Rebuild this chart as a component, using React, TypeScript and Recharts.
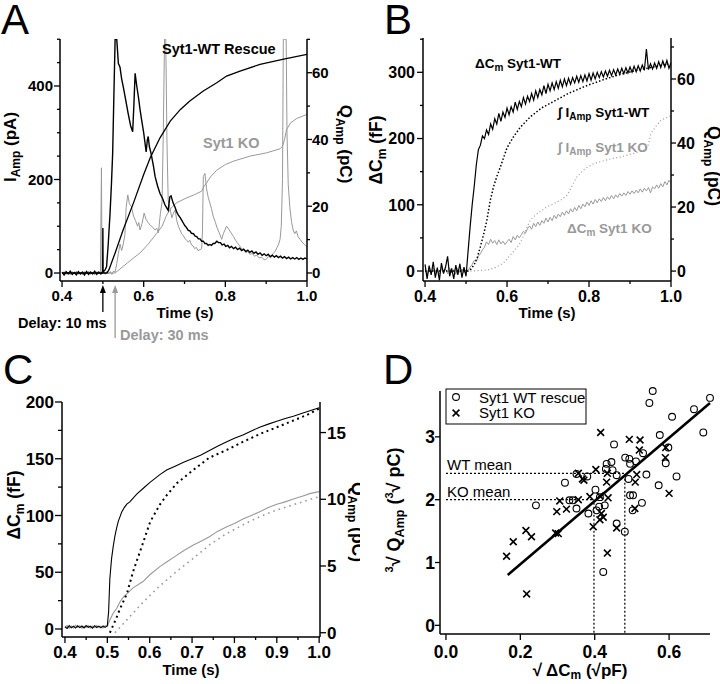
import React from "react";
import { ComposedChart, Line, XAxis, YAxis, Scatter, ReferenceLine } from "recharts";

const FONT = "'Liberation Sans', Arial, Helvetica, sans-serif";
const GRAY = "#999999";

// ---------- Panel A: amperometric current (pA) and charge (pC) ----------
const aCurrentWT = [
  [0.400, 2], [0.405, -4], [0.410, 3], [0.415, -2], [0.420, 4], [0.425, -3], [0.430, 1], [0.435, -4], [0.440, 3], [0.445, -2],
  [0.450, 2], [0.455, -4], [0.460, 3], [0.465, -3], [0.470, 2], [0.475, -2], [0.480, 4], [0.485, -3], [0.490, 2], [0.495, -2],
  [0.4995, 3], [0.500, 96], [0.5005, 2], [0.505, 6], [0.509, 13], [0.513, 60], [0.5176, 128], [0.521, 190], [0.524, 256], [0.527, 380],
  [0.530, 500], [0.534, 500], [0.538, 448], [0.542, 440], [0.546, 415], [0.550, 398], [0.556, 370], [0.562, 341], [0.568, 315], [0.573, 302],
  [0.576, 360], [0.579, 427], [0.583, 400], [0.587, 377], [0.591, 350], [0.595, 327], [0.600, 300], [0.606, 259], [0.609, 285], [0.611, 292],
  [0.614, 270], [0.618, 256], [0.624, 228], [0.628, 206], [0.634, 186], [0.640, 170], [0.646, 160], [0.652, 146], [0.656, 140], [0.660, 134],
  [0.664, 163], [0.667, 165], [0.672, 150], [0.677, 140], [0.681, 130], [0.685, 124], [0.689, 119], [0.693, 113], [0.697, 107], [0.701, 101],
  [0.705, 97], [0.709, 91], [0.713, 90], [0.717, 85], [0.722, 84], [0.726, 79], [0.730, 78], [0.734, 73], [0.738, 73], [0.742, 68],
  [0.746, 68], [0.750, 63], [0.754, 63], [0.758, 59], [0.762, 61], [0.766, 59], [0.770, 63], [0.774, 63], [0.779, 68], [0.783, 65],
  [0.788, 65], [0.792, 60], [0.797, 62], [0.801, 57], [0.806, 59], [0.810, 54], [0.815, 57], [0.820, 52], [0.825, 55], [0.830, 50],
  [0.835, 53], [0.840, 48], [0.845, 51], [0.850, 46], [0.855, 49], [0.860, 44], [0.865, 47], [0.870, 42], [0.875, 45], [0.880, 40],
  [0.885, 43], [0.890, 38], [0.895, 41], [0.900, 37], [0.905, 40], [0.910, 35], [0.915, 38], [0.920, 34], [0.925, 37], [0.930, 33],
  [0.935, 36], [0.940, 32], [0.945, 35], [0.950, 31], [0.955, 34], [0.960, 30], [0.965, 33], [0.970, 30], [0.975, 33], [0.980, 29],
  [0.985, 32], [0.990, 29], [0.995, 32], [1.000, 30],
];

const aCurrentKO = [
  [0.400, -2], [0.405, 3], [0.410, -3], [0.415, 2], [0.420, -4], [0.425, 3], [0.430, -2], [0.435, 4], [0.440, -3], [0.445, 2],
  [0.450, -4], [0.455, 3], [0.460, -2], [0.465, 4], [0.470, -3], [0.475, 2], [0.480, -4], [0.485, 3], [0.490, -2], [0.494, 3],
  [0.4965, 225], [0.498, -2], [0.502, 3], [0.506, -3], [0.510, 4], [0.514, -2], [0.518, 3], [0.522, -3], [0.526, 4], [0.530, 2],
  [0.534, 20], [0.538, 42], [0.542, 62], [0.546, 48], [0.550, 62], [0.554, 82], [0.557, 140], [0.561, 167], [0.565, 148], [0.570, 142],
  [0.575, 122], [0.580, 112], [0.585, 100], [0.588, 108], [0.591, 92], [0.596, 106], [0.601, 128], [0.606, 114], [0.611, 108], [0.616, 102],
  [0.622, 98], [0.628, 92], [0.632, 96], [0.636, 86], [0.641, 128], [0.645, 152], [0.648, 300], [0.651, 500], [0.654, 500], [0.657, 280],
  [0.660, 156], [0.664, 140], [0.669, 118], [0.673, 128], [0.677, 135], [0.681, 112], [0.685, 100], [0.689, 92], [0.693, 84], [0.697, 80],
  [0.701, 74], [0.705, 70], [0.709, 66], [0.713, 70], [0.717, 60], [0.721, 58], [0.725, 52], [0.729, 55], [0.733, 48], [0.738, 50],
  [0.742, 52], [0.744, 90], [0.746, 206], [0.750, 213], [0.754, 180], [0.758, 162], [0.762, 150], [0.766, 138], [0.770, 122], [0.775, 110],
  [0.780, 96], [0.785, 86], [0.791, 72], [0.795, 84], [0.799, 92], [0.803, 100], [0.808, 94], [0.814, 86], [0.820, 78], [0.825, 70],
  [0.830, 64], [0.835, 58], [0.840, 52], [0.845, 50], [0.850, 44], [0.855, 46], [0.860, 40], [0.866, 42], [0.871, 36], [0.877, 38],
  [0.883, 32], [0.889, 34], [0.895, 28], [0.901, 30], [0.906, 36], [0.911, 32], [0.917, 42], [0.922, 46], [0.926, 54], [0.930, 60],
  [0.934, 72], [0.937, 100], [0.940, 200], [0.942, 500], [0.949, 500], [0.951, 300], [0.954, 190], [0.958, 140], [0.962, 110], [0.966, 92],
  [0.970, 84], [0.974, 90], [0.978, 78], [0.983, 72], [0.988, 66], [0.993, 62], [0.997, 58], [1.000, 56],
];

const aChargeWT = [
  [0.400, 0], [0.510, 0], [0.515, 1], [0.530, 6], [0.550, 13], [0.575, 21], [0.600, 29.5], [0.616, 34.5], [0.640, 40.5], [0.665, 45.5],
  [0.690, 49], [0.713, 51.5], [0.746, 54.5], [0.779, 57], [0.803, 59], [0.836, 60.5], [0.885, 62.5], [0.940, 64], [1.000, 65.5],
];

const aChargeKO = [
  [0.400, 0], [0.530, 0], [0.542, 1.2], [0.560, 3], [0.575, 4.5], [0.591, 6], [0.610, 8.5], [0.632, 11.9], [0.645, 14], [0.655, 17],
  [0.664, 19], [0.680, 21], [0.705, 22.5], [0.725, 23.5], [0.742, 24.5], [0.748, 26], [0.754, 27], [0.765, 29], [0.779, 30.8], [0.800, 32.5],
  [0.820, 33.5], [0.860, 35], [0.901, 36], [0.934, 37.2], [0.940, 38], [0.945, 40], [0.950, 43], [0.960, 45], [0.975, 46.3], [1.000, 47.5],
];

// ---------- Panel B: capacitance (fF) and integrated current (pC), samples every 5 ms from 0.4 s ----------
const bCapWT = [
  10, -12, 8, -6, 14, -10, 5, -14, 12, -4, 6, 22, -8, 4, -12, 9, -6, 11, -10, 6, -8,
  30, 67, 100, 128, 160, 183, 190, 204, 200, 213, 206, 222, 214, 230, 222, 238, 226, 240, 232, 246,
  236, 248, 240, 255, 244, 256, 248, 262, 252, 264, 256, 268, 258, 272, 262, 274, 266, 280, 268, 282,
  272, 284, 274, 286, 276, 288, 278, 290, 280, 291, 282, 292, 284, 294, 285, 295, 286, 296, 287, 298,
  288, 299, 290, 300, 292, 301, 293, 302, 294, 303, 295, 304, 296, 305, 297, 306, 298, 307, 299, 308,
  300, 309, 301, 310, 302, 311, 303, 335, 304, 313, 305, 314, 306, 316, 307, 317, 308, 318, 306, 314,
];

const bCapKO = [
  3, -5, 4, -3, 5, -4, 2, -5, 4, -2, 3, -4, 5, -3, 2, -5, 4, -2, 3, -3, 2,
  1, 6, 10, 16, 14, 22, 26, 32, 36, 44, 40, 48, 42, 46, 40, 47, 41, 45, 40, 44,
  48, 43, 52, 47, 54, 50, 55, 60, 57, 64, 68, 63, 72, 67, 74, 69, 76, 72, 80, 74,
  81, 76, 84, 79, 86, 82, 89, 84, 91, 86, 94, 89, 96, 91, 99, 94, 101, 97, 104, 99,
  106, 101, 108, 103, 109, 105, 111, 106, 112, 108, 114, 109, 115, 111, 117, 113, 118, 114, 120, 116,
  121, 117, 122, 118, 124, 119, 125, 121, 126, 118, 127, 124, 130, 125, 132, 127, 135, 130, 137, 133,
];

const bChargeWT = [
  [0.400, 0], [0.505, 0], [0.510, 0.3], [0.520, 2], [0.528, 4.5], [0.535, 7.6], [0.543, 11.5], [0.551, 16], [0.559, 22], [0.567, 26.3],
  [0.575, 29.5], [0.584, 32.6], [0.600, 38.5], [0.616, 42], [0.633, 45], [0.657, 48.2], [0.685, 51], [0.714, 53], [0.750, 55.5], [0.796, 58],
  [0.840, 60], [0.878, 61.5], [0.920, 62.8], [0.959, 63.8], [1.000, 64.9],
];

const bChargeKO = [
  [0.400, 0], [0.510, 0], [0.551, 0.3], [0.570, 1], [0.592, 2.6], [0.608, 5], [0.620, 6.8], [0.633, 9], [0.645, 12.5], [0.657, 16],
  [0.674, 18], [0.698, 20.1], [0.714, 21], [0.735, 22.5], [0.747, 23.8], [0.760, 27], [0.771, 29.5], [0.790, 32], [0.812, 33.6], [0.845, 34.8],
  [0.878, 35.7], [0.910, 36.8], [0.935, 37.8], [0.945, 39.5], [0.951, 43], [0.965, 45.5], [0.976, 47.2], [1.000, 48.5],
];

// ---------- Panel C: averaged capacitance (fF) and charge (pC) ----------
const cCapWT = [
  [0.400, 2], [0.405, 0.5], [0.410, 3], [0.415, 1], [0.420, 2.5], [0.425, 0.8], [0.430, 2.8], [0.435, 1.2], [0.440, 2.6], [0.445, 0.9],
  [0.450, 3], [0.455, 1.5], [0.460, 2.4], [0.465, 0.7], [0.470, 2.9], [0.475, 1.3], [0.480, 2.5], [0.485, 1], [0.490, 2.7], [0.495, 1.4],
  [0.500, 3], [0.503, 15], [0.506, 44.7], [0.510, 62], [0.514, 73], [0.518, 82], [0.522, 89], [0.526, 95], [0.530, 99], [0.534, 103],
  [0.540, 107], [0.546, 110], [0.553, 112], [0.570, 119], [0.585, 124], [0.600, 129], [0.624, 136], [0.640, 140], [0.660, 143.5], [0.680, 147],
  [0.703, 150.5], [0.720, 153], [0.740, 157], [0.760, 161], [0.782, 165], [0.800, 168], [0.820, 171], [0.840, 174.5], [0.861, 178], [0.880, 180.5],
  [0.900, 183], [0.920, 185.5], [0.939, 187.5], [0.960, 190], [0.980, 192.5], [1.000, 195],
];

const cCapKO = [
  [0.400, 1.5], [0.405, 3], [0.410, 0.8], [0.415, 2.6], [0.420, 1], [0.425, 3.2], [0.430, 1.4], [0.435, 2.8], [0.440, 0.6], [0.445, 2.4],
  [0.450, 1.2], [0.455, 3], [0.460, 0.9], [0.465, 2.7], [0.470, 1.1], [0.475, 3.1], [0.480, 1.3], [0.485, 2.5], [0.490, 0.8], [0.495, 2.9],
  [0.500, 2], [0.506, 8], [0.514, 14], [0.522, 18], [0.530, 24], [0.538, 28], [0.546, 31], [0.560, 36], [0.585, 42], [0.601, 48],
  [0.624, 55], [0.640, 59], [0.660, 64], [0.680, 69], [0.703, 74], [0.720, 77], [0.740, 81], [0.760, 86], [0.782, 90], [0.800, 93],
  [0.820, 97], [0.840, 100], [0.861, 103.5], [0.880, 107], [0.900, 110], [0.920, 112], [0.939, 114.5], [0.960, 117], [0.980, 119.5], [1.000, 121],
];

const cChargeWT = [
  [0.506, 0], [0.520, 1], [0.530, 1.8], [0.546, 2.9], [0.561, 4.6], [0.585, 6.8], [0.601, 8.3], [0.624, 9.6], [0.640, 10.3], [0.664, 11.2],
  [0.703, 12.2], [0.740, 13.1], [0.782, 13.7], [0.820, 14.3], [0.861, 14.9], [0.900, 15.4], [0.939, 15.9], [0.970, 16.3], [1.000, 16.8],
];

const cChargeKO = [
  [0.518, 0], [0.550, 1.1], [0.585, 2.3], [0.620, 3.4], [0.664, 4.6], [0.700, 5.5], [0.742, 6.6], [0.780, 7.4], [0.821, 8.1], [0.860, 8.7],
  [0.900, 9.2], [0.950, 9.7], [1.000, 10.2],
];

// ---------- Panel D: sqrt(dCm) vs cube-root(Q) per cell ----------
const dRescue = [
  [0.556, 3.73], [0.547, 3.54], [0.710, 3.62], [0.667, 3.44], [0.608, 3.32], [0.575, 3.03], [0.692, 3.07], [0.452, 2.88], [0.598, 2.83], [0.482, 2.67],
  [0.493, 2.65], [0.530, 2.74], [0.511, 2.61], [0.495, 2.57], [0.432, 2.57], [0.445, 2.60], [0.430, 2.49], [0.448, 2.47], [0.459, 2.39], [0.591, 2.58],
  [0.539, 2.40], [0.620, 2.37], [0.491, 2.33], [0.351, 2.41], [0.380, 2.37], [0.320, 2.27], [0.572, 2.23], [0.402, 2.16], [0.495, 2.07], [0.503, 2.07],
  [0.414, 2.04], [0.341, 1.99], [0.332, 1.99], [0.242, 1.91], [0.351, 1.86], [0.383, 1.78], [0.412, 1.89], [0.427, 1.91], [0.405, 1.83], [0.527, 1.95],
  [0.502, 1.83], [0.459, 1.62], [0.481, 1.49], [0.423, 0.85],
];

const dKO = [
  [0.416, 3.07], [0.493, 2.96], [0.522, 2.95], [0.520, 2.79], [0.591, 2.83], [0.590, 2.67], [0.403, 2.48], [0.356, 2.42], [0.367, 2.33], [0.371, 2.31],
  [0.434, 2.42], [0.513, 2.40], [0.509, 2.28], [0.432, 2.28], [0.387, 2.05], [0.306, 1.98], [0.324, 1.85], [0.298, 1.81], [0.356, 2.0], [0.414, 2.06],
  [0.436, 2.03], [0.418, 1.78], [0.423, 1.72], [0.414, 1.68], [0.396, 1.57], [0.459, 1.55], [0.508, 1.86], [0.600, 2.10], [0.295, 1.47], [0.302, 1.46],
  [0.215, 1.51], [0.230, 1.41], [0.181, 1.33], [0.163, 1.10], [0.434, 1.15], [0.217, 0.50],
];

const dFit = [[0.166, 0.80], [0.710, 3.54]];
const dMeans = { wt: [0.481, 2.42], ko: [0.398, 2.0] };

// tick positions
const tA = [0.4, 0.5, 0.6, 0.7, 0.8, 0.9, 1.0];
const tC = [0.4, 0.45, 0.5, 0.55, 0.6, 0.65, 0.7, 0.75, 0.8, 0.85, 0.9, 0.95, 1.0];

const pts = (a: number[][]) => a.map(([t, v]) => ({ t, v }));
const xy = (a: number[][]) => a.map(([x, y]) => ({ x, y }));
const onGrid = (t0: number, dt: number, vals: number[]) => vals.map((v, i) => ({ t: +(t0 + i * dt).toFixed(4), v }));

type TickOpts = {
  side: "left" | "right" | "bottom";
  labels: number[];
  fmt: (v: number) => string;
  fs: number;
  major?: number;
  minor?: number;
  gap?: number;
  dy?: number;
};

function makeTick(o: TickOpts) {
  return (p: any) => {
    const { x, y, payload } = p;
    const v = payload.value;
    const lab = o.labels.some((m) => Math.abs(m - v) < 1e-6);
    const maj = o.major ?? 6;
    const L = lab ? maj : o.minor ?? 3;
    const gap = o.gap ?? 2;
    const txt = { fontSize: o.fs, fontWeight: 700, fill: "#000", fontFamily: FONT };
    if (o.side === "bottom") {
      return (
        <g>
          <line x1={x} y1={y} x2={x} y2={y + L} stroke="#000" strokeWidth={1.3} />
          {lab && <text x={x} y={y + (o.dy ?? 20)} textAnchor="middle" {...txt}>{o.fmt(v)}</text>}
        </g>
      );
    }
    const s = o.side === "left" ? -1 : 1;
    return (
      <g>
        <line x1={x} y1={y} x2={x + s * L} y2={y} stroke="#000" strokeWidth={1.3} />
        {lab && (
          <text x={x + s * (maj + gap)} y={y} dy="0.36em" textAnchor={s < 0 ? "end" : "start"} {...txt}>
            {o.fmt(v)}
          </text>
        )}
      </g>
    );
  };
}

const axisBase = {
  axisLine: { stroke: "#000", strokeWidth: 1.5 },
  tickLine: false,
  tickSize: 0,
  tickMargin: 0,
  interval: 0 as const,
  allowDataOverflow: true,
};

const f1 = (v: number) => v.toFixed(1);
const f0 = (v: number) => String(Math.round(v));
const range = (a: number, b: number, s: number) => { const r: number[] = []; for (let v = a; v <= b + 1e-9; v += s) r.push(+v.toFixed(3)); return r; };

function PanelA() {
  return (
    <ComposedChart width={360} height={342} margin={{ top: 39, right: 0, bottom: 0, left: 0 }}>
      <XAxis type="number" dataKey="t" domain={[0.395, 1.0]} ticks={tA} height={61} {...axisBase}
        tick={makeTick({ side: "bottom", labels: [0.4, 0.6, 0.8, 1.0], fmt: f1, fs: 15, dy: 20 })} />
      <YAxis yAxisId="l" type="number" domain={[-17.1, 500.5]} ticks={range(0, 500, 50)} width={60} {...axisBase}
        tick={makeTick({ side: "left", labels: [0, 200, 400], fmt: f0, fs: 15, gap: 1 })} />
      <YAxis yAxisId="r" orientation="right" type="number" domain={[-2.4, 70.1]} ticks={range(0, 70, 10)} width={53} {...axisBase}
        tick={makeTick({ side: "right", labels: [0, 20, 40, 60], fmt: f0, fs: 15, major: 5, gap: 0 })} />
      <Line yAxisId="l" data={pts(aCurrentKO)} dataKey="v" stroke={GRAY} strokeWidth={1} dot={false} isAnimationActive={false} type="linear" />
      <Line yAxisId="r" data={pts(aChargeKO)} dataKey="v" stroke={GRAY} strokeWidth={1} dot={false} isAnimationActive={false} type="linear" />
      <Line yAxisId="l" data={pts(aCurrentWT)} dataKey="v" stroke="#000" strokeWidth={1.4} dot={false} isAnimationActive={false} type="linear" />
      <Line yAxisId="r" data={pts(aChargeWT)} dataKey="v" stroke="#000" strokeWidth={1.3} dot={false} isAnimationActive={false} type="linear" />
    </ComposedChart>
  );
}

function PanelB() {
  return (
    <ComposedChart width={360} height={342} margin={{ top: 38, right: 0, bottom: 0, left: 0 }}>
      <XAxis type="number" dataKey="t" domain={[0.395, 1.0]} ticks={tA} height={61} {...axisBase}
        tick={makeTick({ side: "bottom", labels: [0.4, 0.6, 0.8, 1.0], fmt: f1, fs: 16, dy: 21 })} />
      <YAxis yAxisId="l" type="number" domain={[-15.1, 351.8]} ticks={range(0, 350, 50)} width={63} {...axisBase}
        tick={makeTick({ side: "left", labels: [0, 100, 200, 300], fmt: f0, fs: 16, gap: 2 })} />
      <YAxis yAxisId="r" orientation="right" type="number" domain={[-3.1, 72.8]} ticks={range(0, 70, 10)} width={49} {...axisBase}
        tick={makeTick({ side: "right", labels: [0, 20, 40, 60], fmt: f0, fs: 16, major: 5, gap: 1 })} />
      <Line yAxisId="l" data={onGrid(0.4, 0.005, bCapKO)} dataKey="v" stroke={GRAY} strokeWidth={1} dot={false} isAnimationActive={false} type="linear" />
      <Line yAxisId="r" data={pts(bChargeKO)} dataKey="v" stroke={GRAY} strokeWidth={1.2} strokeDasharray="1 2.5" dot={false} isAnimationActive={false} type="linear" />
      <Line yAxisId="l" data={onGrid(0.4, 0.005, bCapWT)} dataKey="v" stroke="#000" strokeWidth={1.2} dot={false} isAnimationActive={false} type="linear" />
      <Line yAxisId="r" data={pts(bChargeWT)} dataKey="v" stroke="#000" strokeWidth={1.5} strokeDasharray="1.5 2" dot={false} isAnimationActive={false} type="linear" />
    </ComposedChart>
  );
}

function PanelC() {
  return (
    <ComposedChart width={360} height={342} margin={{ top: 60, right: 0, bottom: 0, left: 0 }}>
      <XAxis type="number" dataKey="t" domain={[0.393, 1.002]} ticks={tC} height={47} {...axisBase}
        tick={makeTick({ side: "bottom", labels: tA, fmt: f1, fs: 17, dy: 21 })} />
      <YAxis yAxisId="l" type="number" domain={[-7.05, 200]} ticks={range(0, 200, 25)} width={62} {...axisBase}
        tick={makeTick({ side: "left", labels: [0, 50, 100, 150, 200], fmt: f0, fs: 17, major: 7, minor: 4, gap: 1 })} />
      <YAxis yAxisId="r" orientation="right" type="number" domain={[-0.32, 17.29]} ticks={[0, 5, 10, 15]} width={40} {...axisBase}
        tick={makeTick({ side: "right", labels: [0, 5, 10, 15], fmt: f0, fs: 17, major: 6, gap: 1 })} />
      <Line yAxisId="l" data={pts(cCapKO)} dataKey="v" stroke={GRAY} strokeWidth={1.1} dot={false} isAnimationActive={false} type="linear" />
      <Line yAxisId="r" data={pts(cChargeKO)} dataKey="v" stroke={GRAY} strokeWidth={1.6} strokeDasharray="1.6 4" dot={false} isAnimationActive={false} type="linear" />
      <Line yAxisId="l" data={pts(cCapWT)} dataKey="v" stroke="#000" strokeWidth={1.1} dot={false} isAnimationActive={false} type="linear" />
      <Line yAxisId="r" data={pts(cChargeWT)} dataKey="v" stroke="#000" strokeWidth={2} strokeDasharray="2 3.5" dot={false} isAnimationActive={false} type="linear" />
    </ComposedChart>
  );
}

const Circle = (p: any) => <circle cx={p.cx} cy={p.cy} r={3.4} fill="none" stroke="#000" strokeWidth={1.1} />;
const Cross = (p: any) => {
  const s = 3.4;
  return <path d={`M${p.cx - s},${p.cy - s}L${p.cx + s},${p.cy + s}M${p.cx + s},${p.cy - s}L${p.cx - s},${p.cy + s}`} stroke="#000" strokeWidth={1.6} />;
};

function PanelD() {
  const dash = { stroke: "#000", strokeWidth: 1.2, strokeDasharray: "2 2", ifOverflow: "visible" as const };
  return (
    <ComposedChart width={360} height={342} margin={{ top: 49, right: 10, bottom: 0, left: 0 }}>
      <XAxis type="number" dataKey="x" domain={[-0.016, 0.71]} ticks={[0, 0.2, 0.4, 0.6]} height={50} {...axisBase} allowDataOverflow={false}
        tick={makeTick({ side: "bottom", labels: [0, 0.2, 0.4, 0.6], fmt: f1, fs: 17.5, major: 6, dy: 24 })} />
      <YAxis type="number" dataKey="y" domain={[-0.138, 3.719]} ticks={[0, 1, 2, 3]} width={80} {...axisBase} allowDataOverflow={false}
        tick={makeTick({ side: "left", labels: [0, 1, 2, 3], fmt: f0, fs: 17.5, major: 5, gap: 0 })} />
      <ReferenceLine segment={[{ x: 0, y: dMeans.wt[1] }, { x: dMeans.wt[0], y: dMeans.wt[1] }]} {...dash} />
      <ReferenceLine segment={[{ x: 0, y: dMeans.ko[1] }, { x: dMeans.ko[0], y: dMeans.ko[1] }]} {...dash} />
      <ReferenceLine segment={[{ x: dMeans.wt[0], y: -0.12 }, { x: dMeans.wt[0], y: dMeans.wt[1] }]} {...dash} />
      <ReferenceLine segment={[{ x: dMeans.ko[0], y: -0.12 }, { x: dMeans.ko[0], y: dMeans.ko[1] }]} {...dash} />
      <Scatter data={xy(dRescue)} dataKey="y" shape={Circle} isAnimationActive={false} />
      <Scatter data={xy(dKO)} dataKey="y" shape={Cross} isAnimationActive={false} />
      <Line data={xy(dFit)} dataKey="y" stroke="#000" strokeWidth={2.6} dot={false} isAnimationActive={false} type="linear" />
    </ComposedChart>
  );
}

// x position of a time inside panel A plot (for the delay arrows)
const aX = (t: number) => 60 + ((t - 0.395) / (1.0 - 0.395)) * 247;

function Overlay() {
  const b = { fontFamily: FONT, fontWeight: 700 } as const;
  const r = { fontFamily: FONT, fontWeight: 400 } as const;
  return (
    <svg width={720} height={684} style={{ position: "absolute", left: 0, top: 0, pointerEvents: "none" }}>
      <defs>
        <clipPath id="clipC"><rect x={0} y={342} width={360} height={342} /></clipPath>
      </defs>
      {/* panel letters */}
      <text x={1} y={34} fontSize={42} {...r}>A</text>
      <text x={384} y={34} fontSize={42} {...r}>B</text>
      <text x={3} y={384} fontSize={42} {...r}>C</text>
      <text x={383} y={384} fontSize={42} {...r}>D</text>

      {/* A */}
      <text x={162} y={54} fontSize={14.5} {...b}>Syt1-WT Rescue</text>
      <text x={203} y={148} fontSize={14.5} fill={GRAY} {...b}>Syt1 KO</text>
      <g transform="translate(16,147) rotate(-90)">
        <text textAnchor="middle" fontSize={17} {...b}>I<tspan fontSize={12} dy={4}>Amp</tspan><tspan dy={-4}> (pA)</tspan></text>
      </g>
      <g transform="translate(340,144) rotate(90)">
        <text textAnchor="middle" fontSize={17} {...b}>Q<tspan fontSize={12} dy={4}>Amp</tspan><tspan dy={-4}> (pC)</tspan></text>
      </g>
      <text x={185} y={318} textAnchor="middle" fontSize={15} {...b}>Time (s)</text>
      <text x={18} y={328} fontSize={14.5} {...b}>Delay: 10 ms</text>
      <text x={120} y={340} fontSize={14.5} fill={GRAY} {...b}>Delay: 30 ms</text>
      <line x1={aX(0.5)} y1={312} x2={aX(0.5)} y2={291} stroke="#000" strokeWidth={1.3} />
      <path d={`M${aX(0.5) - 3},${293} L${aX(0.5)},${285} L${aX(0.5) + 3},${293} Z`} fill="#000" />
      <line x1={aX(0.53)} y1={338} x2={aX(0.53)} y2={291} stroke={GRAY} strokeWidth={1.3} />
      <path d={`M${aX(0.53) - 3},${293} L${aX(0.53)},${285} L${aX(0.53) + 3},${293} Z`} fill={GRAY} />

      {/* B */}
      <text x={475} y={68} fontSize={13.5} {...b}>ΔC<tspan fontSize={10} dy={3}>m</tspan><tspan dy={-3}> Syt1-WT</tspan></text>
      <text x={558} y={117} fontSize={13.5} {...b}>∫ I<tspan fontSize={10} dy={3}>Amp</tspan><tspan dy={-3}> Syt1-WT</tspan></text>
      <text x={558} y={152} fontSize={13.5} fill={GRAY} {...b}>∫ I<tspan fontSize={10} dy={3}>Amp</tspan><tspan dy={-3}> Syt1 KO</tspan></text>
      <text x={567} y={233} fontSize={13.5} fill={GRAY} {...b}>ΔC<tspan fontSize={10} dy={3}>m</tspan><tspan dy={-3}> Syt1 KO</tspan></text>
      <g transform="translate(382,150) rotate(-90)">
        <text textAnchor="middle" fontSize={17.5} {...b}>ΔC<tspan fontSize={12} dy={4}>m</tspan><tspan dy={-4}> (fF)</tspan></text>
      </g>
      <g transform="translate(708,166) rotate(90)">
        <text textAnchor="middle" fontSize={17.5} {...b}>Q<tspan fontSize={12} dy={4}>Amp</tspan><tspan dy={-4}> (pC)</tspan></text>
      </g>
      <text x={547} y={318} textAnchor="middle" fontSize={15} {...b}>Time (s)</text>

      {/* C */}
      <g transform="translate(20,505) rotate(-90)">
        <text textAnchor="middle" fontSize={17.5} {...b}>ΔC<tspan fontSize={12} dy={4}>m</tspan><tspan dy={-4}> (fF)</tspan></text>
      </g>
      <g clipPath="url(#clipC)">
        <g transform="translate(352,522) rotate(90)">
          <text textAnchor="middle" fontSize={17.5} {...b}>Q<tspan fontSize={12} dy={4}>Amp</tspan><tspan dy={-4}> (pC)</tspan></text>
        </g>
      </g>
      <text x={191} y={675} textAnchor="middle" fontSize={15} {...b}>Time (s)</text>

      {/* D */}
      <rect x={446} y={389} width={140} height={35} fill="#fff" stroke="#000" strokeWidth={1} />
      <circle cx={456} cy={397} r={3.4} fill="none" stroke="#000" strokeWidth={1.1} />
      <path d="M452.6,409.6L459.4,416.4M459.4,409.6L452.6,416.4" stroke="#000" strokeWidth={1.6} />
      <text x={479} y={402.5} fontSize={15} {...r}>Syt1 WT rescue</text>
      <text x={479} y={418} fontSize={15} {...r}>Syt1 KO</text>
      <text x={447} y={470} fontSize={15} {...r}>WT mean</text>
      <text x={447} y={496.5} fontSize={15} {...r}>KO mean</text>
      <g transform="translate(400,510) rotate(-90)">
        <text textAnchor="middle" fontSize={18} {...b}>
          <tspan fontSize={11} dy={-7}>3</tspan><tspan dy={7}>√ Q</tspan><tspan fontSize={12.5} dy={4}>Amp</tspan>
          <tspan dy={-4}> (</tspan><tspan fontSize={11} dy={-7}>3</tspan><tspan dy={7}>√ pC)</tspan>
        </text>
      </g>
      <text x={580} y={676} textAnchor="middle" fontSize={17} {...b}>
        √ ΔC<tspan fontSize={12} dy={3}>m</tspan><tspan dy={-3}> (√pF)</tspan>
      </text>
    </svg>
  );
}

export default function App() {
  return (
    <div style={{ position: "absolute", left: 0, top: 0, width: 720, height: 684, background: "#fff", fontFamily: FONT }}>
      <div style={{ position: "absolute", left: 0, top: 0 }}><PanelA /></div>
      <div style={{ position: "absolute", left: 360, top: 0 }}><PanelB /></div>
      <div style={{ position: "absolute", left: 0, top: 342 }}><PanelC /></div>
      <div style={{ position: "absolute", left: 360, top: 342 }}><PanelD /></div>
      <Overlay />
    </div>
  );
}
